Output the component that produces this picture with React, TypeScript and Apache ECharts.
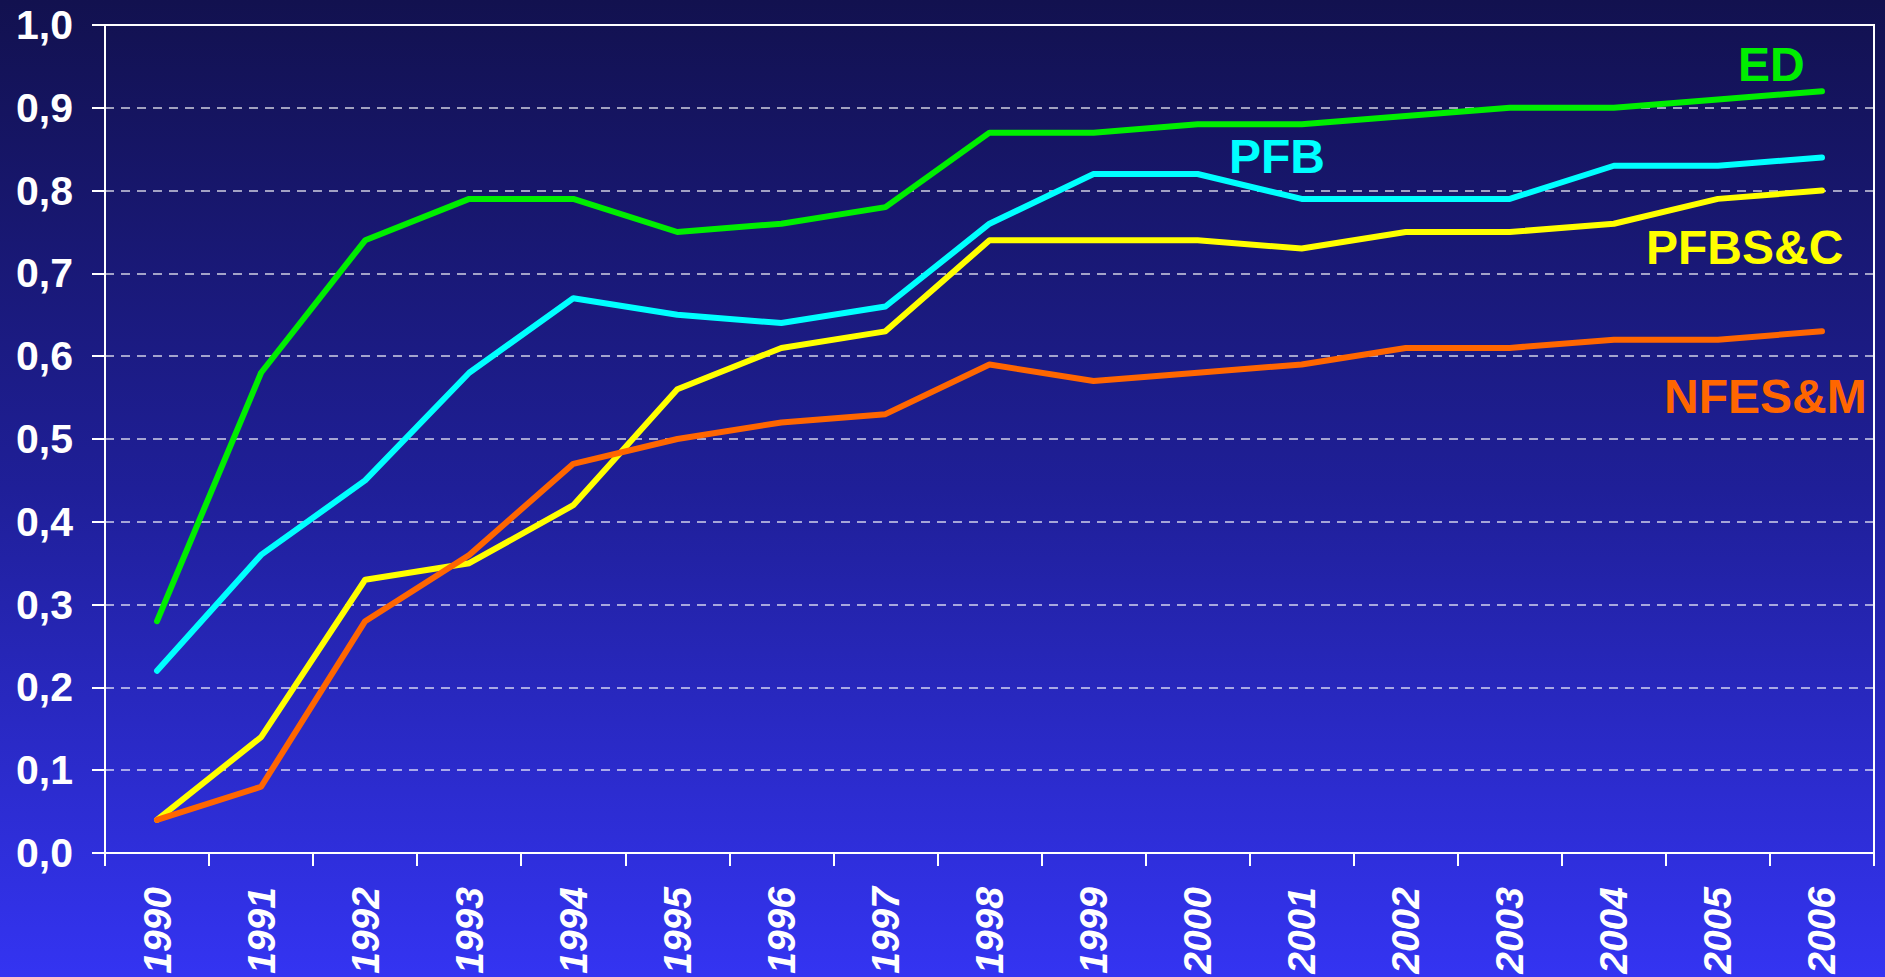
import React, { useEffect, useRef } from "react";
import * as echarts from "echarts";

const years = ["1990","1991","1992","1993","1994","1995","1996","1997","1998","1999","2000","2001","2002","2003","2004","2005","2006"];
const edValues = [0.28,0.58,0.74,0.79,0.79,0.75,0.76,0.78,0.87,0.87,0.88,0.88,0.89,0.90,0.90,0.91,0.92];
const pfbValues = [0.22,0.36,0.45,0.58,0.67,0.65,0.64,0.66,0.76,0.82,0.82,0.79,0.79,0.79,0.83,0.83,0.84];
const pfbscValues = [0.04,0.14,0.33,0.35,0.42,0.56,0.61,0.63,0.74,0.74,0.74,0.73,0.75,0.75,0.76,0.79,0.80];
const nfesmValues = [0.04,0.08,0.28,0.36,0.47,0.50,0.52,0.53,0.59,0.57,0.58,0.59,0.61,0.61,0.62,0.62,0.63];

const seriesNames = ["ED", "PFB", "PFBS&C", "NFES&M"];
const seriesColors = ["#00ee00", "#00ffff", "#ffff00", "#ff6600"];

const FONT = "'Liberation Sans', Arial, sans-serif";

export default function App() {
  const ref = useRef<HTMLDivElement>(null);
  useEffect(() => {
    if (!ref.current) return;
    const chart = echarts.init(ref.current, undefined, { renderer: "svg" });
    const data = [edValues, pfbValues, pfbscValues, nfesmValues];
    const labelPos = [
      { x: 1738, y: 67 },
      { x: 1229, y: 159 },
      { x: 1646, y: 250 },
      { x: 1664, y: 399 },
    ];
    chart.setOption({
      animation: false,
      backgroundColor: new echarts.graphic.LinearGradient(0, 0, 0, 1, [
        { offset: 0, color: "#12114f" },
        { offset: 0.5, color: "#1f1f98" },
        { offset: 1, color: "#3434f2" },
      ]),
      grid: {
        left: 105,
        top: 25,
        right: 11,
        bottom: 124,
        show: true,
        borderColor: "#ffffff",
        borderWidth: 2,
        backgroundColor: "transparent",
      },
      xAxis: {
        type: "category",
        data: years,
        boundaryGap: true,
        axisLine: { show: true, lineStyle: { color: "#ffffff", width: 2 } },
        axisTick: { show: true, length: 13, lineStyle: { color: "#ffffff", width: 2 } },
        axisLabel: {
          rotate: 90,
          margin: 34,
          color: "#ffffff",
          fontFamily: FONT,
          fontWeight: "bold",
          fontStyle: "italic",
          fontSize: 39,
        },
        splitLine: { show: false },
      },
      yAxis: {
        type: "value",
        min: 0,
        max: 1,
        interval: 0.1,
        axisLine: { show: true, lineStyle: { color: "#ffffff", width: 2 } },
        axisTick: { show: true, length: 13, lineStyle: { color: "#ffffff", width: 2 } },
        axisLabel: {
          margin: 32,
          color: "#ffffff",
          fontFamily: FONT,
          fontWeight: "bold",
          fontSize: 41,
          formatter: (v: number) => v.toFixed(1).replace(".", ","),
        },
        splitLine: {
          show: true,
          lineStyle: { color: "rgba(255,255,255,0.8)", width: 1.5, type: [9, 7] },
        },
      },
      series: seriesNames.map((name, i) => ({
        name,
        type: "line",
        data: data[i],
        symbol: "none",
        smooth: false,
        lineStyle: { color: seriesColors[i], width: 6, cap: "round", join: "round" },
        z: 3 + i,
      })),
      graphic: seriesNames.map((name, i) => ({
        type: "text",
        left: labelPos[i].x,
        top: labelPos[i].y - 27,
        z: 100,
        style: {
          text: name,
          fill: seriesColors[i],
          font: `bold 48px ${FONT}`,
        },
      })),
    });
    return () => chart.dispose();
  }, []);
  return (
    <div
      ref={ref}
      style={{ position: "fixed", left: 0, top: 0, width: 1885, height: 977 }}
    />
  );
}
